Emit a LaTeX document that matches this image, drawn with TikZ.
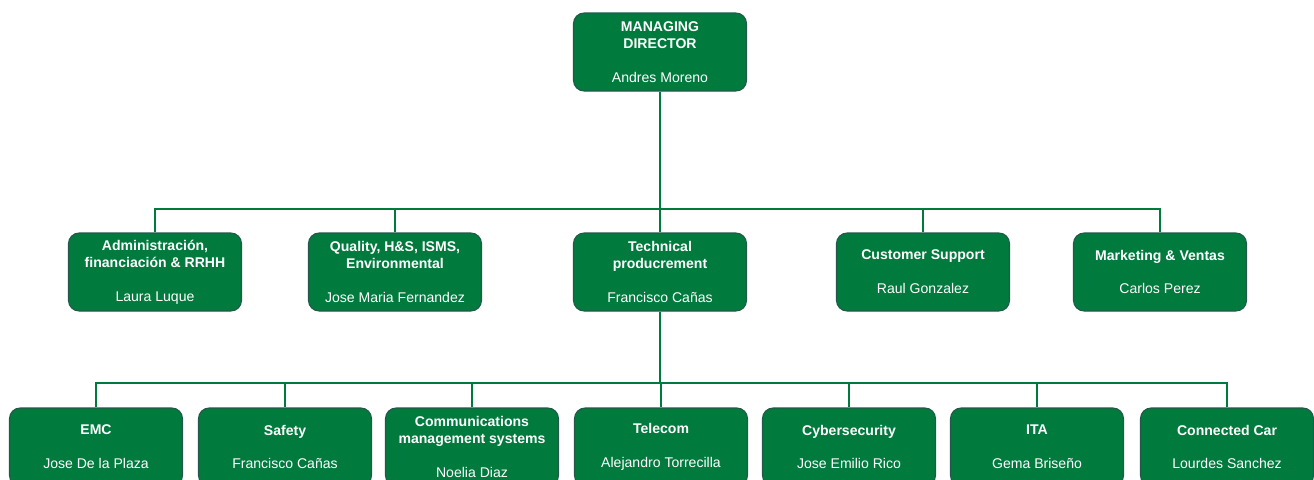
\documentclass[tikz,border=0pt]{standalone}
\usepackage{fontspec}
\setmainfont{Liberation Sans}
\usepackage{xcolor}
\usetikzlibrary{calc}

\definecolor{orggreen}{RGB}{0,122,61}
\definecolor{orgedge}{RGB}{36,88,74}

\begin{document}
\begin{tikzpicture}[
		unit/.style={draw=orgedge, line width=0.6pt, fill=orggreen, rounded corners=6pt,
			minimum width=3.46cm, minimum height=1.56cm, inner sep=1pt,
			align=center, text=white, font=\fontsize{8}{9.6}\selectfont},
		link/.style={draw=orggreen, line width=1.1pt}
	]
			\useasboundingbox (0,0) rectangle (26.28,-9.58);
			\clip (0,0) rectangle (26.28,-9.58);

			% top
			\node[unit] (md) at (13.2,-1.04) {\textbf{MANAGING}\\\textbf{DIRECTOR}\\[9.6pt]Andres Moreno};

			% second level
			\begin{scope}
				\node[unit] (adm)  at (3.10,-5.44)  {\textbf{Administración,}\\\textbf{financiación \& RRHH}\\[9.6pt]Laura Luque};
				\node[unit] (qual) at (7.90,-5.44)  {\textbf{Quality, H\&S, ISMS,}\\\textbf{Environmental}\\[9.6pt]Jose Maria Fernandez};
				\node[unit] (tech) at (13.2,-5.44)  {\textbf{Technical}\\\textbf{producrement}\\[9.6pt]Francisco Cañas};
				\node[unit] (cust) at (18.46,-5.44) {\textbf{Customer Support}\\[9.6pt]Raul Gonzalez};
				\node[unit] (mkt)  at (23.2,-5.44)  {\textbf{Marketing \& Ventas}\\[9.6pt]Carlos Perez};
			\end{scope}

			% third level
			\begin{scope}
				\node[unit] (emc)   at (1.92,-8.94)  {\textbf{EMC}\\[9.6pt]Jose De la Plaza};
				\node[unit] (saf)   at (5.70,-8.94)  {\textbf{Safety}\\[9.6pt]Francisco Cañas};
				\node[unit] (comms) at (9.44,-8.94)  {\textbf{Communications}\\\textbf{management systems}\\[9.6pt]Noelia Diaz};
				\node[unit] (tel)   at (13.22,-8.94) {\textbf{Telecom}\\[9.6pt]Alejandro Torrecilla};
				\node[unit] (cyber) at (16.98,-8.94) {\textbf{Cybersecurity}\\[9.6pt]Jose Emilio Rico};
				\node[unit] (ita)   at (20.74,-8.94) {\textbf{ITA}\\[9.6pt]Gema Briseño};
				\node[unit] (car)   at (24.54,-8.94) {\textbf{Connected Car}\\[9.6pt]Lourdes Sanchez};
			\end{scope}

			\coordinate (bus1) at (13.2,-4.18);
			\coordinate (bus2) at (13.2,-7.66);

			\begin{scope}[link]
				\draw (md.south) -- (bus1);
				\foreach \n in {adm, qual, tech, cust, mkt}
				{
					\draw (\n.north) |- (bus1);
				}
				\draw (tech.south) -- (bus2);
				\foreach \n in {emc, saf, comms, tel, cyber, ita, car}
				{
					\draw (\n.north) |- (bus2);
				}
			\end{scope}
		\end{tikzpicture}
\end{document}
